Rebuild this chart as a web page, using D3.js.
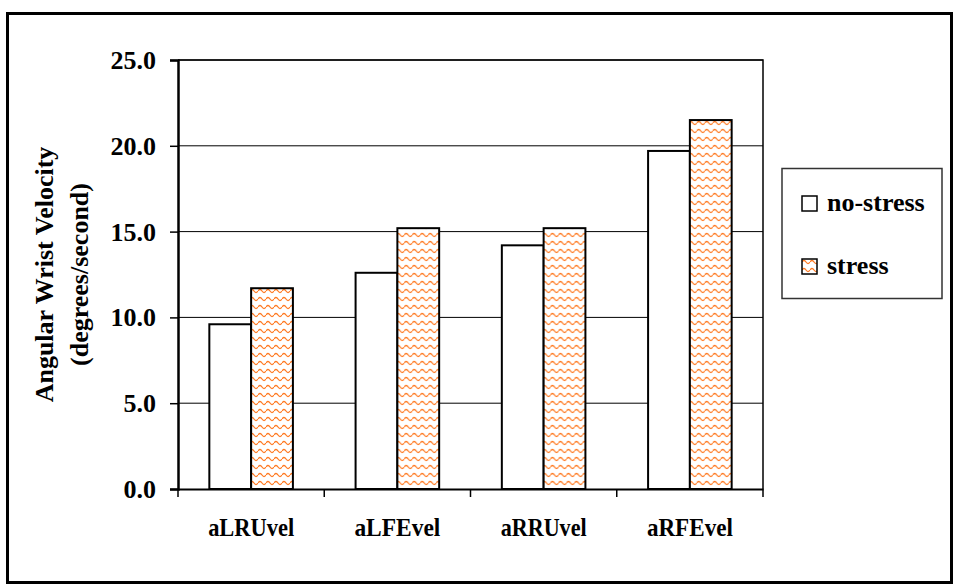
<!DOCTYPE html>
<html>
<head>
<meta charset="utf-8">
<script src="https://cdn.jsdelivr.net/npm/d3@7"></script>
<style>
  html, body { margin: 0; padding: 0; background: #fff; overflow: hidden; }
  svg { display: block; }
  text { font-family: "Liberation Serif", "Times New Roman", serif; font-weight: bold; fill: #000; }
</style>
</head>
<body>
<svg id="chart" width="955" height="587"></svg>
<script>
const categories = ["aLRUvel", "aLFEvel", "aRRUvel", "aRFEvel"];
const seriesNames = ["no-stress", "stress"];
const noStress = [9.6, 12.6, 14.2, 19.7];
const stress = [11.7, 15.2, 15.2, 21.5];
const yTicks = [0, 5, 10, 15, 20, 25];
const yTitle = ["Angular Wrist Velocity", "(degrees/second)"];

const seriesValues = { "no-stress": noStress, "stress": stress };

const svg = d3.select("#chart");
const defs = svg.append("defs");

// wavy orange pattern
const pat = defs.append("pattern")
  .attr("id", "wave")
  .attr("patternUnits", "userSpaceOnUse")
  .attr("width", 8).attr("height", 8);
pat.append("rect").attr("width", 8).attr("height", 8).attr("fill", "#fff");
pat.append("path")
  .attr("d", "M0,3 Q2,0 4,3 T8,3")
  .attr("fill", "none")
  .attr("stroke", "#ff7a22")
  .attr("stroke-width", 1.3);

const fills = { "no-stress": "#ffffff", "stress": "url(#wave)" };

// outer frame
svg.append("rect")
  .attr("x", 7.5).attr("y", 13.5)
  .attr("width", 944).attr("height", 569)
  .attr("fill", "none").attr("stroke", "#000").attr("stroke-width", 3);

const plot = { left: 178, right: 763, top: 60, bottom: 489 };

const x0 = d3.scaleBand().domain(categories).range([plot.left, plot.right]).paddingInner(0).paddingOuter(0);
const x1 = d3.scaleBand().domain(seriesNames).range([0, x0.bandwidth()]).paddingInner(0).paddingOuter(0.75);
const y = d3.scaleLinear().domain([0, 25]).range([plot.bottom, plot.top]);

// gridlines
svg.append("g").selectAll("line").data(yTicks.filter(d => d > 0))
  .join("line")
  .attr("x1", plot.left).attr("x2", plot.right)
  .attr("y1", d => y(d)).attr("y2", d => y(d))
  .attr("stroke", "#000").attr("stroke-width", 1);

// plot area border right/top
svg.append("path")
  .attr("d", `M${plot.left},${plot.top}H${plot.right}V${plot.bottom}`)
  .attr("fill", "none").attr("stroke", "#000").attr("stroke-width", 1.5);

// bars
const groups = svg.append("g").selectAll("g").data(categories)
  .join("g").attr("transform", d => `translate(${x0(d)},0)`);
groups.selectAll("rect")
  .data((c, i) => seriesNames.map(s => ({ s, v: seriesValues[s][i] })))
  .join("rect")
  .attr("x", d => x1(d.s))
  .attr("y", d => y(d.v))
  .attr("width", x1.bandwidth())
  .attr("height", d => y(0) - y(d.v))
  .attr("fill", d => fills[d.s])
  .attr("stroke", "#000").attr("stroke-width", 2);

// y axis
const yAxis = svg.append("g").attr("transform", `translate(${plot.left},0)`)
  .call(d3.axisLeft(y).tickValues(yTicks).tickFormat(d3.format(".1f")).tickSize(8).tickPadding(14));
yAxis.select(".domain").attr("stroke-width", 2.5);
yAxis.selectAll(".tick line").attr("stroke-width", 1.5);
yAxis.selectAll("text").style("font-size", "26px").attr("dy", "0.33em");

// x axis
const xAxis = svg.append("g").attr("transform", `translate(0,${plot.bottom})`)
  .call(d3.axisBottom(x0).tickSize(0).tickFormat(""));
xAxis.select(".domain").attr("stroke-width", 2);
xAxis.selectAll(".tick").remove();
const bounds = d3.range(categories.length + 1).map(i => plot.left + i * x0.step());
xAxis.selectAll(".xt").data(bounds).join("line")
  .attr("x1", d => d).attr("x2", d => d).attr("y1", 0).attr("y2", 8)
  .attr("stroke", "#000").attr("stroke-width", 1.5);
svg.append("g").selectAll("text").data(categories).join("text")
  .attr("x", d => x0(d) + x0.bandwidth() / 2)
  .attr("y", 536)
  .attr("text-anchor", "middle")
  .style("font-size", "26px")
  .attr("textLength", 86)
  .attr("lengthAdjust", "spacingAndGlyphs")
  .text(d => d);

// y title
const midY = (plot.top + plot.bottom) / 2;
svg.append("g").selectAll("text").data(yTitle).join("text")
  .attr("transform", (d, i) => `translate(${53 + i * 35},${midY}) rotate(-90)`)
  .attr("text-anchor", "middle")
  .style("font-size", "26px")
  .text(d => d);

// legend
const lg = svg.append("g");
lg.append("rect").attr("x", 782).attr("y", 168.5).attr("width", 160).attr("height", 130)
  .attr("fill", "#fff").attr("stroke", "#333").attr("stroke-width", 1.5);
const items = lg.selectAll("g").data(seriesNames).join("g")
  .attr("transform", (d, i) => `translate(802,${196 + i * 63})`);
items.append("rect").attr("width", 15).attr("height", 15)
  .attr("fill", d => fills[d]).attr("stroke", "#000").attr("stroke-width", 1.5);
items.append("text").attr("x", 25).attr("y", 15)
  .style("font-size", "26px")
  .text(d => d);
</script>
</body>
</html>
